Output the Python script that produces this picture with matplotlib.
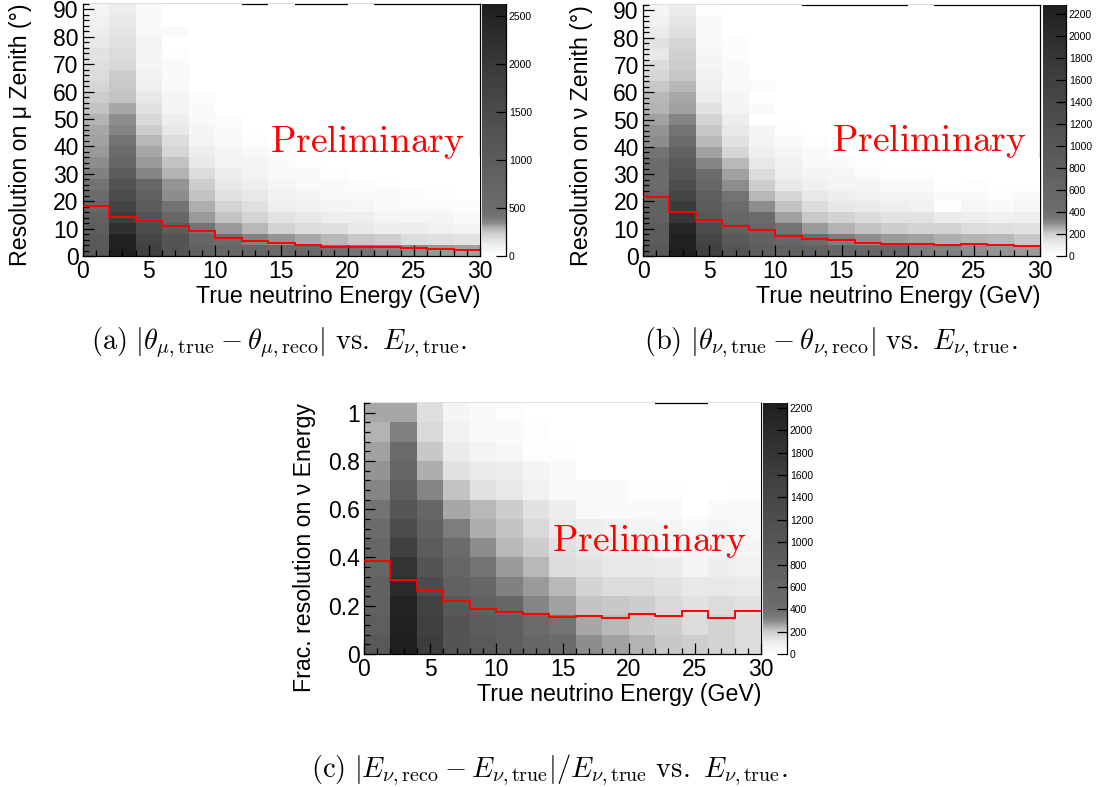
import numpy as np
import matplotlib.pyplot as plt
from matplotlib.colors import LinearSegmentedColormap, Normalize
from matplotlib.ticker import MultipleLocator, FormatStrFormatter

plt.rcParams['font.family'] = ['Liberation Sans', 'DejaVu Sans']
plt.rcParams['mathtext.fontset'] = 'cm'

# bin edges
e_edges = np.arange(0, 32, 2)          # true neutrino energy (GeV)
zen_edges = np.arange(0, 96, 4)        # zenith resolution (deg)
frac_edges = np.linspace(0, 1.04, 14)  # fractional energy resolution

# counts per energy bin, each list runs from the lowest y bin upward
mu_zen_counts = [
    [1076, 1076, 924, 845, 690, 535, 427, 374, 341, 328, 312, 302, 278, 255, 228, 203, 184, 168, 160, 142, 123, 100, 81],
    [2625, 2565, 2200, 1898, 1685, 1460, 1307, 1000, 690, 535, 427, 361, 341, 302, 255, 239, 228, 194, 176, 160, 150, 134, 115],
    [1838, 1685, 1460, 1231, 1000, 845, 690, 361, 320, 300, 268, 228, 194, 160, 142, 123, 100, 81, 66, 81, 50, 50, 33],
    [1231, 1231, 1000, 690, 427, 341, 334, 278, 255, 203, 176, 142, 115, 81, 66, 50, 33, 33, 17, 8, 33, 5, 5],
    [845, 690, 427, 328, 289, 255, 228, 176, 142, 115, 81, 66, 50, 33, 25, 10, 6, 4, 3, 3, 2, 2, 2],
    [690, 535, 320, 255, 210, 160, 134, 115, 81, 66, 50, 33, 25, 8, 5, 4, 3, 3, 2, 2, 2, 2, 2],
    [690, 374, 268, 210, 168, 134, 115, 81, 66, 45, 20, 8, 4, 3, 2, 1, 1, 1, 1, 0, 0, 0, 0],
    [600, 330, 210, 160, 123, 100, 66, 50, 33, 25, 10, 5, 3, 2, 1, 1, 1, 1, 1, 1, 1, 1, 1],
    [560, 302, 184, 142, 100, 66, 50, 33, 15, 8, 4, 3, 2, 1, 1, 1, 0, 0, 0, 0, 0, 0, 0],
    [450, 268, 168, 123, 81, 50, 33, 15, 8, 4, 2, 1, 1, 0, 0, 0, 0, 0, 0, 0, 0, 0, 0],
    [430, 239, 142, 115, 66, 41, 25, 10, 5, 3, 2, 1, 1, 1, 1, 1, 1, 1, 1, 1, 1, 1, 1],
    [374, 228, 123, 81, 50, 33, 15, 5, 3, 2, 1, 0, 0, 0, 0, 0, 0, 0, 0, 0, 0, 0, 0],
    [341, 184, 115, 66, 41, 25, 10, 5, 2, 1, 0, 0, 0, 0, 0, 0, 0, 0, 0, 0, 0, 0, 0],
    [328, 168, 100, 66, 33, 15, 5, 2, 1, 0, 0, 0, 0, 0, 0, 0, 0, 0, 0, 0, 0, 0, 0],
    [312, 160, 81, 50, 25, 10, 4, 2, 1, 0, 0, 0, 0, 0, 0, 0, 0, 0, 0, 0, 0, 0, 0],
]

nu_zen_counts = [
    [935, 869, 869, 734, 734, 600, 465, 465, 465, 371, 296, 285, 271, 242, 233, 207, 176, 160, 123, 139, 107, 87, 57],
    [2280, 2228, 2122, 1800, 1700, 1464, 1268, 1069, 935, 734, 465, 371, 313, 271, 262, 233, 207, 198, 190, 170, 150, 130, 107],
    [1596, 1464, 1268, 1003, 869, 803, 600, 465, 313, 271, 233, 207, 180, 139, 115, 100, 87, 71, 57, 43, 29, 29, 10],
    [1069, 935, 734, 600, 465, 371, 296, 271, 233, 176, 139, 123, 100, 71, 57, 43, 36, 29, 21, 21, 8, 4, 3],
    [803, 734, 600, 465, 296, 233, 198, 160, 123, 100, 71, 57, 2, 29, 8, 29, 4, 3, 2, 2, 1, 1, 1],
    [734, 600, 371, 271, 221, 170, 123, 100, 87, 57, 29, 14, 7, 4, 3, 2, 2, 1, 1, 1, 1, 1, 1],
    [734, 465, 278, 207, 160, 123, 94, 64, 43, 29, 14, 6, 3, 2, 1, 1, 0, 0, 0, 0, 0, 0, 0],
    [600, 336, 242, 185, 123, 100, 71, 57, 29, 14, 6, 3, 2, 1, 0, 0, 0, 0, 0, 0, 0, 0, 0],
    [600, 296, 221, 153, 107, 87, 57, 29, 12, 5, 2, 1, 0, 0, 0, 0, 0, 0, 0, 0, 0, 0, 0],
    [600, 278, 198, 139, 100, 71, 43, 14, 5, 2, 1, 0, 0, 0, 0, 0, 0, 0, 0, 0, 0, 0, 0],
    [336, 271, 185, 139, 87, 57, 29, 14, 5, 2, 1, 1, 1, 1, 1, 1, 1, 1, 1, 1, 1, 1, 1],
    [325, 251, 180, 107, 2, 29, 5, 2, 1, 0, 0, 0, 0, 0, 0, 0, 0, 0, 0, 0, 0, 0, 0],
    [296, 242, 160, 100, 57, 29, 10, 3, 1, 0, 0, 0, 0, 0, 0, 0, 0, 0, 0, 0, 0, 0, 0],
    [285, 233, 145, 87, 43, 14, 5, 2, 1, 0, 0, 0, 0, 0, 0, 0, 0, 0, 0, 0, 0, 0, 0],
    [278, 207, 139, 100, 57, 29, 8, 3, 1, 0, 0, 0, 0, 0, 0, 0, 0, 0, 0, 0, 0, 0, 0],
]

e_frac_counts = [
    [920, 790, 723, 723, 590, 590, 458, 365, 309, 281, 267, 238, 258],
    [2245, 2193, 2141, 1987, 1830, 1572, 1248, 1000, 790, 590, 458, 320, 258],
    [1623, 1572, 1500, 1248, 1053, 855, 723, 590, 309, 247, 204, 166, 143],
    [1053, 1053, 920, 723, 590, 458, 331, 258, 218, 137, 106, 85, 56],
    [920, 855, 723, 590, 365, 292, 247, 229, 137, 106, 63, 43, 28],
    [790, 790, 590, 320, 274, 229, 218, 195, 121, 99, 50, 28, 14],
    [590, 458, 309, 274, 229, 195, 166, 137, 85, 56, 14, 14, 4],
    [458, 365, 267, 229, 157, 137, 114, 99, 43, 28, 14, 3, 3],
    [292, 258, 218, 180, 137, 121, 99, 43, 28, 8, 4, 2, 2],
    [267, 229, 204, 150, 121, 106, 85, 43, 28, 5, 3, 2, 2],
    [238, 204, 195, 150, 121, 99, 70, 28, 14, 4, 2, 2, 2],
    [204, 195, 166, 137, 106, 70, 56, 28, 14, 4, 2, 2, 0],
    [195, 150, 137, 121, 70, 56, 43, 5, 3, 2, 2, 2, 0],
    [180, 180, 150, 121, 99, 70, 56, 28, 8, 4, 2, 2, 2],
    [157, 150, 137, 106, 85, 56, 43, 28, 14, 4, 2, 2, 2],
]

# red profile (per energy bin)
mu_zen_profile = [18.1, 14.3, 12.8, 10.9, 9.0, 6.7, 5.5, 4.6, 4.0, 3.4, 3.3, 3.2, 2.9, 2.7, 2.2]
nu_zen_profile = [21.7, 16.1, 13.3, 11.1, 9.4, 7.4, 6.3, 5.9, 4.9, 4.4, 4.5, 4.1, 4.3, 3.9, 3.5]
e_frac_profile = [0.385, 0.305, 0.264, 0.221, 0.185, 0.173, 0.167, 0.155, 0.159, 0.151,
                  0.167, 0.159, 0.177, 0.148, 0.177]

W, H = 1101, 787
fig = plt.figure(figsize=(W / 100, H / 100), dpi=100)


def box(x0, y0, x1, y1):
    return [x0 / W, 1 - y1 / H, (x1 - x0) / W, (y1 - y0) / H]


# grey palette as seen on the colour bars
cmap = LinearSegmentedColormap.from_list('greys_root', [
    (0.0, '1.0'), (0.044, '0.93'), (0.087, '0.80'), (0.11, '0.68'), (0.13, '0.55'),
    (0.15, '0.47'), (0.175, '0.43'), (0.44, '0.34'), (0.7, '0.25'), (1.0, '0.12')])


def panel(rect, crect, counts, yedges, profile, ylabel, ymaj, ymin, yfmt, cstep,
          prelim_xy, ylab_x):
    ax = fig.add_axes(box(*rect))
    cax = fig.add_axes(box(*crect))
    z = np.ma.masked_equal(np.array(counts, dtype=float).T, 0)
    norm = Normalize(0, z.max())
    mesh = ax.pcolormesh(e_edges, yedges, z, cmap=cmap, norm=norm,
                         linewidth=0, antialiased=False, zorder=1)
    ax.stairs(profile, e_edges, baseline=None, color='red', lw=1.4, zorder=3)
    ax.set_xlim(0, 30)
    ax.set_ylim(yedges[0], yedges[-1])
    # frame pieces under the cells, axes on top
    ax.spines['top'].set_zorder(0.5)
    ax.spines['right'].set_zorder(0.5)
    for s in ax.spines.values():
        s.set_linewidth(0.9)
    ax.xaxis.set_major_locator(MultipleLocator(5))
    ax.xaxis.set_minor_locator(MultipleLocator(1))
    ax.yaxis.set_major_locator(MultipleLocator(ymaj))
    ax.yaxis.set_minor_locator(MultipleLocator(ymin))
    ax.yaxis.set_major_formatter(FormatStrFormatter(yfmt))
    ax.tick_params(which='both', direction='in', top=False, right=False,
                   width=0.9, labelsize=16.5)
    ax.tick_params(which='major', length=8, pad=3)
    ax.tick_params(which='minor', length=4)
    ax.set_xlabel('True neutrino Energy (GeV)', loc='right', fontsize=16.7)
    ax.set_ylabel(ylabel, loc='top', fontsize=16.7)
    ax.xaxis.set_label_coords(1.0, -0.115)
    ax.yaxis.set_label_coords(ylab_x, 1.0)
    ax.text(prelim_xy[0], prelim_xy[1], r'$\mathrm{Preliminary}$', color='red',
            fontsize=27, ha='left', va='baseline', zorder=4)

    cb = fig.colorbar(mesh, cax=cax, ticks=np.arange(0, z.max() + 1, cstep))
    cb.outline.set_visible(False)
    cax.plot([1, 1], [0, 1], transform=cax.transAxes, color='k', lw=0.9, clip_on=False)
    cax.tick_params(direction='in', length=7, width=0.9, labelsize=7.5, pad=2)
    cax.minorticks_off()
    return ax


panel((82.7, 4, 480, 256), (482, 4, 506, 256), mu_zen_counts, zen_edges, mu_zen_profile,
      'Resolution on μ Zenith (°)', 10, 2, '%g', 500, (14.15, 38.0), -0.128)
panel((643, 5, 1040, 256), (1043, 5, 1066, 256), nu_zen_counts, zen_edges, nu_zen_profile,
      'Resolution on ν Zenith (°)', 10, 2, '%g', 200, (14.3, 38.4), -0.125)
panel((364, 403, 761, 654), (763, 403, 787, 654), e_frac_counts, frac_edges, e_frac_profile,
      'Frac. resolution on ν Energy', 0.2, 0.04, '%g', 200, (14.2, 0.427), -0.12)

cap = dict(ha='center', va='baseline', fontsize=20.5)
fig.text(279 / W, 1 - 349 / H,
         r'$\mathrm{(a)}\ |\theta_{\mu,\mathrm{true}}-\theta_{\mu,\mathrm{reco}}|\ \mathrm{vs.}\ E_{\nu,\mathrm{true}}.$', **cap)
fig.text(831 / W, 1 - 349 / H,
         r'$\mathrm{(b)}\ |\theta_{\nu,\mathrm{true}}-\theta_{\nu,\mathrm{reco}}|\ \mathrm{vs.}\ E_{\nu,\mathrm{true}}.$', **cap)
fig.text(550 / W, 1 - 777 / H,
         r'$\mathrm{(c)}\ |E_{\nu,\mathrm{reco}}-E_{\nu,\mathrm{true}}|/E_{\nu,\mathrm{true}}\ \mathrm{vs.}\ E_{\nu,\mathrm{true}}.$', **cap)

fig.savefig('out.png', dpi=100, facecolor='white')
